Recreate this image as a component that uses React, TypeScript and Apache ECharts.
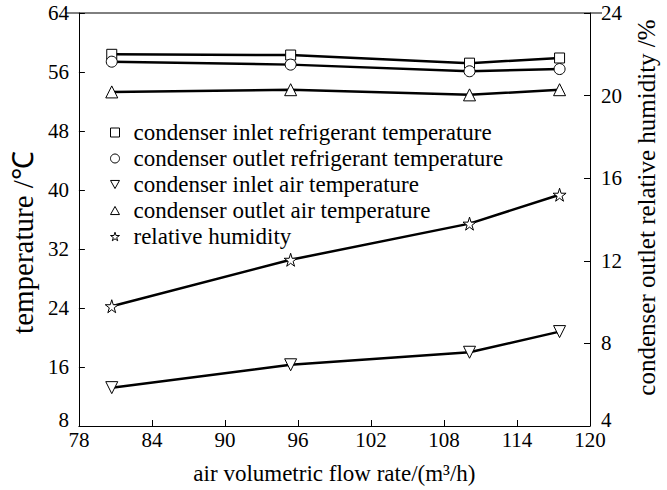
import React, { useEffect, useRef } from "react";
import * as echarts from "echarts";

const flowRates = [80.7, 95.4, 110.1, 117.5];
const inletRefrigerant = [58.4, 58.3, 57.2, 57.9];
const outletRefrigerant = [57.4, 57.0, 56.1, 56.4];
const inletAir = [13.2, 16.3, 18.0, 20.8];
const outletAir = [53.3, 53.6, 52.9, 53.6];
const humidity = [9.8, 12.05, 13.8, 15.2];

const seriesNames = [
  "condenser inlet refrigerant temperature",
  "condenser outlet refrigerant temperature",
  "condenser inlet air temperature",
  "condenser outlet air temperature",
  "relative humidity",
];

const STAR = "path://M50,0 L61,35 L98,35 L68,57 L79,91 L50,70 L21,91 L32,57 L2,35 L39,35 Z";
const DOWN = "path://M0,0 L10,0 L5,9 Z";
const UP = "path://M5,0 L10,9 L0,9 Z";
const RECT = "rect";
const CIRC = "circle";

const FONT = "Times New Roman, Liberation Serif, serif";

export default function App() {
  const ref = useRef<HTMLDivElement>(null);
  useEffect(() => {
    if (!ref.current) return;
    const chart = echarts.init(ref.current, undefined, { renderer: "svg" });
    const pair = (ys: number[]) => flowRates.map((x, i) => [x, ys[i]]);
    const symbols = [RECT, CIRC, DOWN, UP, STAR];
    const sizes = [10, 11, 12, 12, 13];
    const datas = [inletRefrigerant, outletRefrigerant, inletAir, outletAir, humidity];
    const mk = { color: "#fff", borderColor: "#000", borderWidth: 1 };
    const lowRich = { low: { fontFamily: FONT, fontSize: 21, color: "#000", padding: [0, 0, 12, 0] } };
    chart.setOption({
      animation: false,
      backgroundColor: "#fff",
      textStyle: { fontFamily: FONT, color: "#000" },
      grid: { left: 65, right: 65, top: 13, bottom: 63 },
      legend: {
        orient: "vertical",
        left: 105,
        top: 116,
        itemWidth: 9,
        itemHeight: 9,
        itemGap: 3,
        textStyle: { fontFamily: FONT, fontSize: 23, color: "#000", padding: [0, 0, 0, 9] },
        data: seriesNames.map((n, i) => ({ name: n, icon: symbols[i], itemStyle: mk })),
      },
      xAxis: {
        type: "value",
        min: 78,
        max: 120,
        interval: 6,
        name: "air volumetric flow rate/(m³/h)",
        nameLocation: "middle",
        nameGap: 36,
        nameTextStyle: { fontFamily: FONT, fontSize: 23, color: "#000" },
        axisLine: { onZero: false, lineStyle: { color: "#000", width: 1 } },
        axisTick: { inside: true, length: 6, lineStyle: { color: "#000" } },
        axisLabel: { fontFamily: FONT, fontSize: 21, color: "#000", margin: 3 },
        splitLine: { show: false },
      },
      yAxis: [
        {
          type: "value",
          min: 8,
          max: 64,
          interval: 8,
          name: "temperature /℃",
          nameLocation: "middle",
          nameGap: 38,
          nameTextStyle: {
            fontFamily: FONT,
            fontSize: 29,
            color: "#000",
            padding: [0, 46, 0, 0],
          },
          axisLine: { show: true, lineStyle: { color: "#000", width: 1 } },
          axisTick: { inside: true, length: 6, lineStyle: { color: "#000" } },
          axisLabel: {
            fontFamily: FONT,
            fontSize: 21,
            color: "#000",
            margin: 10,
            formatter: (v: number) => (v === 8 ? "{low|8}" : String(v)),
            rich: lowRich,
          },
          splitLine: { show: false },
        },
        {
          type: "value",
          min: 4,
          max: 24,
          interval: 4,
          position: "right",
          name: "condenser outlet relative humidity /%",
          nameLocation: "middle",
          nameGap: 44,
          nameRotate: 90,
          nameTextStyle: {
            fontFamily: FONT,
            fontSize: 25,
            color: "#000",
            padding: [0, 0, 0, 24],
          },
          axisLine: { show: true, lineStyle: { color: "#000", width: 1 } },
          axisTick: { inside: true, length: 6, lineStyle: { color: "#000" } },
          axisLabel: {
            fontFamily: FONT,
            fontSize: 21,
            color: "#000",
            margin: 11,
            formatter: (v: number) => (v === 4 ? "{low|4}" : String(v)),
            rich: lowRich,
          },
          splitLine: { show: false },
        },
      ],
      graphic: [
        {
          type: "line",
          shape: { x1: 65, y1: 13, x2: 602, y2: 13 },
          style: { stroke: "#000", lineWidth: 1 },
        },
      ],
      series: datas.map((d, i) => ({
        name: seriesNames[i],
        type: "line",
        yAxisIndex: i === 4 ? 1 : 0,
        data: pair(d),
        symbol: symbols[i],
        symbolSize: sizes[i],
        showAllSymbol: true,
        color: "#000",
        lineStyle: { color: "#000", width: 2.5 },
        itemStyle: mk,
        z: 2,
      })),
    });
    return () => chart.dispose();
  }, []);
  return (
    <div
      ref={ref}
      style={{ position: "absolute", left: 0, top: 0, width: 667, height: 490 }}
    />
  );
}
